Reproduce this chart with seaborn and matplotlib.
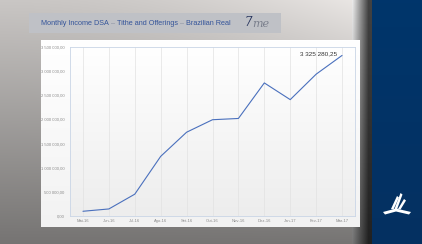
import numpy as np
import pandas as pd
import matplotlib
matplotlib.use("Agg")
import matplotlib.pyplot as plt
from matplotlib.ticker import FuncFormatter, FixedLocator
from matplotlib.patches import Rectangle, Polygon
import seaborn as sns

months = ["Mai-16", "Jun-16", "Jul-16", "Ago-16", "Set-16", "Out-16",
          "Nov-16", "Dez-16", "Jan-17", "Fev-17", "Mar-17"]
income = [98000, 146000, 452000, 1235000, 1735000, 1994000,
          2020000, 2756000, 2410000, 2937000, 3325280.25]
y_ticks = [0, 500000, 1000000, 1500000, 2000000, 2500000, 3000000, 3500000]
title_parts = ["Monthly Income DSA", " \u2013 ", "Tithe and Offerings", " \u2013 ", "Brazilian Real"]
last_label = "3 325 280,25"

df = pd.DataFrame({"month": months, "income": income})

sns.set_theme(style="white")
plt.rcParams["font.family"] = ["Liberation Sans", "DejaVu Sans"]

W, H = 422, 244
fig = plt.figure(figsize=(W / 100, H / 100), dpi=100)

# ---- slide background ----
bg = fig.add_axes([0, 0, 1, 1])
bg.set_xlim(0, W)
bg.set_ylim(H, 0)
bg.axis("off")
xx, yy = np.meshgrid(np.arange(W), np.arange(H))
t = yy / H
v = 0.79 - 0.33 * t + 0.13 * (xx / 360.0) ** 2 * (1 - t)
v = np.clip(v, 0, 1)
img = np.stack([v, v * 0.985, v * 0.975], axis=-1)
# shadow
sh = (xx >= 352) & (xx < 372)
s = np.clip((xx - 352) / 16.0, 0, 1)
dark = v * (1 - 0.72 * s)
for c in range(3):
    img[..., c] = np.where(sh, dark, img[..., c])
# blue panel
blue = (xx >= 372)
bt = t
img[..., 0] = np.where(blue, 0.00 + 0.02 * bt, img[..., 0])
img[..., 1] = np.where(blue, 0.21 - 0.02 * bt, img[..., 1])
img[..., 2] = np.where(blue, 0.42 - 0.04 * bt, img[..., 2])
bg.imshow(img, extent=(0, W, H, 0), aspect="auto", zorder=0, interpolation="bilinear")

# card
card = np.linspace(1.0, 0.95, 100)[:, None] * np.ones((1, 10))
bg.imshow(np.stack([card, card, card], axis=-1), extent=(41, 360, 227, 40),
          aspect="auto", zorder=1)
# title bar
bg.add_patch(Rectangle((29, 13), 252, 20, facecolor="#bfc1c6", edgecolor="none", zorder=2))
x0 = 41
renderer = fig.canvas.get_renderer()
for i, part in enumerate(title_parts):
    col = "#35559a" if i % 2 == 0 else "#8c93a3"
    txt = bg.text(x0, 23.5, part, fontsize=5.2, color=col, va="center", ha="left", zorder=3)
    bb = txt.get_window_extent(renderer=renderer)
    x0 += bb.width
bg.text(245, 23, "7", fontsize=8.5, color="#23305a", style="italic", family="DejaVu Serif",
        va="center", ha="left", zorder=3)
bg.text(252.5, 24, "me", fontsize=8, color="#7a7f8c", style="italic", family="DejaVu Serif",
        va="center", ha="left", zorder=3)

# Adventist-like logo (white)
wcol = "white"
bg.add_patch(Polygon([(383, 212), (396, 208.5), (411, 212), (409, 214.5), (396, 211.5), (385, 214.5)],
                     closed=True, facecolor=wcol, edgecolor="none", zorder=3))
for dx, top in ((0, 196), (3.5, 193), (7, 199)):
    bg.add_patch(Polygon([(391 + dx, 209), (397 + dx, top), (399 + dx, top + 1.5), (393.5 + dx, 209.5)],
                         closed=True, facecolor=wcol, edgecolor="none", zorder=3))

# ---- chart ----
ax = fig.add_axes([70 / W, 1 - 216 / H, 285 / W, 169 / H])
ax.set_zorder(5)
grad = np.linspace(1.0, 0.93, 100)[:, None] * np.ones((1, 10))
ax.imshow(np.stack([grad, grad, grad], axis=-1), extent=(-0.5, 10.5, 0, 3500000),
          aspect="auto", zorder=0)
sns.lineplot(data=df, x="month", y="income", sort=False, ax=ax,
             color="#4a70bd", linewidth=0.8, zorder=3)
ax.set_xlim(-0.5, 10.5)
ax.set_ylim(0, 3500000)
for i in range(len(months)):
    ax.axvline(i, color="#e2e2e2", linewidth=0.5, zorder=1)
ax.yaxis.set_major_locator(FixedLocator(y_ticks))
ax.yaxis.set_major_formatter(FuncFormatter(
    lambda val, pos: (f"{val:,.2f}").replace(",", " ").replace(".", ",")))
ax.tick_params(axis="both", length=0, labelsize=3, colors="#8a8a8a")
ax.tick_params(axis="y", pad=4)
ax.tick_params(axis="x", pad=2)
ax.set_xlabel("")
ax.set_ylabel("")
for sp in ax.spines.values():
    sp.set_color("#c9d5e6")
    sp.set_linewidth(0.6)
ax.annotate(last_label, xy=(10, income[-1]), xytext=(-3.5, 1.5), textcoords="offset points",
            ha="right", va="center", fontsize=4.6, color="#333333")

fig.savefig("out.png", dpi=100)
